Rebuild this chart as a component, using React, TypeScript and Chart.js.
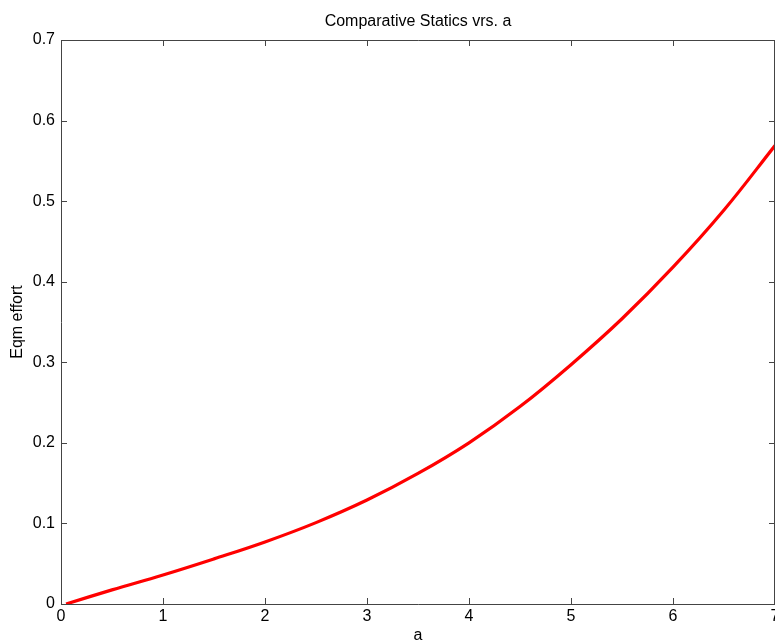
import React, { useEffect, useRef } from "react";
import { Chart, registerables } from "chart.js";

Chart.register(...registerables);

const aValues = [0.05, 0.5, 1, 1.5, 2, 2.5, 3, 3.5, 4, 4.5, 5, 5.5, 6, 6.5, 7];
const effortValues = [0.0, 0.0175, 0.036, 0.056, 0.077, 0.101, 0.129, 0.162, 0.2, 0.245, 0.297, 0.354, 0.418, 0.489, 0.569];
const xTicks = [0, 1, 2, 3, 4, 5, 6, 7];
const yTicks = [0, 0.1, 0.2, 0.3, 0.4, 0.5, 0.6, 0.7];
const titleText = "Comparative Statics vrs. a";
const xLabel = "a";
const yLabel = "Eqm effort";

const FONT = "'Liberation Sans', Arial, sans-serif";
const AXIS_COLOR = "#444444";

const framePlugin = {
  id: "matlabFrame",
  afterDraw(chart: any) {
    const { ctx, chartArea } = chart;
    const { left, right, top, bottom } = chartArea;
    const xs = chart.scales.x;
    const ys = chart.scales.y;
    ctx.save();
    ctx.strokeStyle = AXIS_COLOR;
    ctx.lineWidth = 1;
    ctx.beginPath();
    ctx.moveTo(left + 0.5, bottom + 0.5);
    ctx.lineTo(left + 0.5, top + 0.5);
    ctx.lineTo(right, top + 0.5);
    ctx.moveTo(left + 0.5, bottom + 0.5);
    ctx.lineTo(right, bottom + 0.5);
    ctx.moveTo(right - 0.5, top);
    ctx.lineTo(right - 0.5, bottom);
    const tl = 6;
    xTicks.forEach((v) => {
      const px = Math.round(xs.getPixelForValue(v)) + 0.5;
      ctx.moveTo(px, bottom);
      ctx.lineTo(px, bottom - tl);
      ctx.moveTo(px, top);
      ctx.lineTo(px, top + tl);
    });
    yTicks.forEach((v) => {
      const py = Math.round(ys.getPixelForValue(v)) + 0.5;
      ctx.moveTo(left, py);
      ctx.lineTo(left + tl, py);
      ctx.moveTo(right, py);
      ctx.lineTo(right - tl, py);
    });
    ctx.stroke();

    ctx.fillStyle = "#000";
    ctx.font = `16px ${FONT}`;
    ctx.textAlign = "center";
    ctx.textBaseline = "middle";
    ctx.fillText(titleText, (left + right) / 2, 22);
    ctx.fillText(xLabel, (left + right) / 2, 636);
    ctx.translate(18, (top + bottom) / 2);
    ctx.rotate(-Math.PI / 2);
    ctx.fillText(yLabel, 0, 0);
    ctx.restore();
  },
};

function App() {
  const canvasRef = useRef<HTMLCanvasElement | null>(null);

  useEffect(() => {
    document.body.style.margin = "0";
    const canvas = canvasRef.current;
    if (!canvas) return;
    const chart = new Chart(canvas, {
      type: "line",
      data: {
        datasets: [
          {
            data: aValues.map((a, i) => ({ x: a, y: effortValues[i] })),
            borderColor: "#ff0000",
            borderWidth: 3.2,
            pointRadius: 0,
            tension: 0.4,
            fill: false,
          },
        ],
      },
      options: {
        animation: false,
        responsive: false,
        maintainAspectRatio: false,
        layout: { padding: { top: 40, right: 0, left: 0, bottom: 0 } },
        plugins: {
          legend: { display: false },
          title: { display: false },
          tooltip: { enabled: false },
        },
        scales: {
          x: {
            type: "linear",
            min: 0,
            max: 7,
            afterBuildTicks: (scale: any) => {
              scale.ticks = xTicks.map((v) => ({ value: v }));
            },
            afterFit: (scale: any) => {
              scale.height = 40;
              scale.paddingLeft = 0;
              scale.paddingRight = 0;
            },
            grid: { display: false, drawTicks: false },
            border: { display: false },
            ticks: {
              color: "#000",
              font: { family: FONT, size: 16 },
              padding: 3,
              maxRotation: 0,
              autoSkip: false,
              callback: (v: any) => String(v),
            },
          },
          y: {
            type: "linear",
            min: 0,
            max: 0.7,
            afterBuildTicks: (scale: any) => {
              scale.ticks = yTicks.map((v) => ({ value: v }));
            },
            afterFit: (scale: any) => {
              scale.width = 61;
              scale.paddingTop = 0;
              scale.paddingBottom = 0;
            },
            grid: { display: false, drawTicks: false },
            border: { display: false },
            ticks: {
              color: "#000",
              font: { family: FONT, size: 16 },
              padding: 6,
              autoSkip: false,
              callback: (v: any) => (v === 0 ? "0" : Number(v).toFixed(1)),
            },
          },
        },
      },
      plugins: [framePlugin],
    } as any);
    return () => chart.destroy();
  }, []);

  return (
    <div style={{ position: "absolute", left: 0, top: 0, width: 775, height: 644, background: "#fff" }}>
      <canvas ref={canvasRef} width={775} height={644} style={{ display: "block" }} />
    </div>
  );
}

export default App;
